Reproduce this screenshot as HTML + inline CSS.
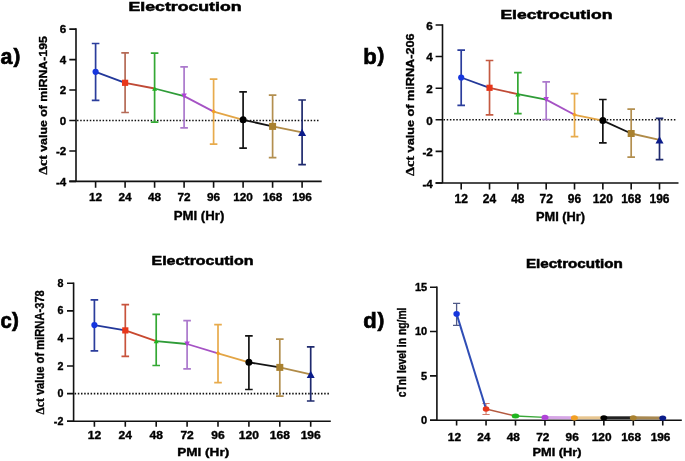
<!DOCTYPE html>
<html><head><meta charset="utf-8"><style>
html,body{margin:0;padding:0;background:#fff;}
svg{display:block;will-change:transform;}
text{font-family:"Liberation Sans", sans-serif;fill:#000;stroke:#000;stroke-width:0.35px;}
</style></head><body>
<svg width="685" height="461" viewBox="0 0 685 461">
<rect width="685" height="461" fill="#fff"/>
<text x="185" y="10.8" text-anchor="middle" font-size="12.5" font-weight="bold" textLength="113" lengthAdjust="spacingAndGlyphs" style="stroke-width:0.5px">Electrocution</text>
<text transform="translate(0.50,63.50) scale(0.95,1)" font-size="22.5" font-weight="bold" style="stroke-width:0.7px">a</text>
<text transform="translate(13.40,62.80) scale(1.05,1)" font-size="19.5" font-weight="bold" style="stroke-width:0.7px">)</text>
<text transform="translate(47.3,105.4) rotate(-90)" text-anchor="middle" font-size="11.5" font-weight="bold" textLength="138.6" lengthAdjust="spacingAndGlyphs"><tspan font-family="Liberation Serif" font-size="13">Δct</tspan> value of miRNA-195</text>
<path d="M76.00,28.32 V181.42 M69.30,181.42 H321.70" stroke="#111" stroke-width="1.6" fill="none"/>
<text x="66.20" y="33.42" text-anchor="end" font-size="11.6" font-weight="bold">6</text>
<text x="66.20" y="63.88" text-anchor="end" font-size="11.6" font-weight="bold">4</text>
<text x="66.20" y="94.34" text-anchor="end" font-size="11.6" font-weight="bold">2</text>
<text x="66.20" y="124.80" text-anchor="end" font-size="11.6" font-weight="bold">0</text>
<text x="66.20" y="155.26" text-anchor="end" font-size="11.6" font-weight="bold">-2</text>
<text x="66.20" y="185.72" text-anchor="end" font-size="11.6" font-weight="bold">-4</text>
<path d="M69.30,29.12 H76.00 M69.30,59.58 H76.00 M69.30,90.04 H76.00 M69.30,120.50 H76.00 M69.30,150.96 H76.00 M69.30,181.42 H76.00 M95.60,181.42 V187.72 M125.10,181.42 V187.72 M154.60,181.42 V187.72 M184.10,181.42 V187.72 M213.60,181.42 V187.72 M243.10,181.42 V187.72 M272.60,181.42 V187.72 M302.10,181.42 V187.72" stroke="#111" stroke-width="1.6" fill="none"/>
<text x="95.60" y="201.20" text-anchor="middle" font-size="11.8" font-weight="bold">12</text>
<text x="125.10" y="201.20" text-anchor="middle" font-size="11.8" font-weight="bold">24</text>
<text x="154.60" y="201.20" text-anchor="middle" font-size="11.8" font-weight="bold">48</text>
<text x="184.10" y="201.20" text-anchor="middle" font-size="11.8" font-weight="bold">72</text>
<text x="213.60" y="201.20" text-anchor="middle" font-size="11.8" font-weight="bold">96</text>
<text x="243.10" y="201.20" text-anchor="middle" font-size="11.8" font-weight="bold">120</text>
<text x="272.60" y="201.20" text-anchor="middle" font-size="11.8" font-weight="bold">168</text>
<text x="302.10" y="201.20" text-anchor="middle" font-size="11.8" font-weight="bold">196</text>
<text transform="translate(199.00,219.60) scale(1.1,1)" text-anchor="middle" font-size="12" font-weight="bold">PMI (Hr)</text>
<path d="M77.00,120.50 H320.00" stroke="#111" stroke-width="1.6" stroke-dasharray="1.5 1.7" fill="none"/>
<path d="M95.60,43.50 V100.40 M91.80,43.50 H99.40 M91.80,100.40 H99.40" stroke="#2b3d9c" stroke-width="1.7" fill="none"/>
<path d="M125.10,52.90 V112.50 M121.30,52.90 H128.90 M121.30,112.50 H128.90" stroke="#b56a56" stroke-width="1.7" fill="none"/>
<path d="M154.60,53.10 V122.20 M150.80,53.10 H158.40 M150.80,122.20 H158.40" stroke="#34a834" stroke-width="1.7" fill="none"/>
<path d="M184.10,66.90 V127.80 M180.30,66.90 H187.90 M180.30,127.80 H187.90" stroke="#ab78cc" stroke-width="1.7" fill="none"/>
<path d="M213.60,79.20 V144.20 M209.80,79.20 H217.40 M209.80,144.20 H217.40" stroke="#e8ab4c" stroke-width="1.7" fill="none"/>
<path d="M243.10,91.90 V148.10 M239.30,91.90 H246.90 M239.30,148.10 H246.90" stroke="#141414" stroke-width="1.7" fill="none"/>
<path d="M272.60,95.20 V157.60 M268.80,95.20 H276.40 M268.80,157.60 H276.40" stroke="#b38f4f" stroke-width="1.7" fill="none"/>
<path d="M302.10,100.00 V164.70 M298.30,100.00 H305.90 M298.30,164.70 H305.90" stroke="#1f2a6e" stroke-width="1.7" fill="none"/>
<path d="M95.60,71.80 L125.10,82.80" stroke="#23389a" stroke-width="1.8" fill="none"/>
<path d="M125.10,82.80 L154.60,88.50" stroke="#c04a36" stroke-width="1.8" fill="none"/>
<path d="M154.60,88.50 L184.10,96.10" stroke="#2f9c38" stroke-width="1.8" fill="none"/>
<path d="M184.10,96.10 L213.60,111.60" stroke="#a552c4" stroke-width="1.8" fill="none"/>
<path d="M213.60,111.60 L243.10,119.80" stroke="#e3a545" stroke-width="1.8" fill="none"/>
<path d="M243.10,119.80 L272.60,126.40" stroke="#141414" stroke-width="1.8" fill="none"/>
<path d="M272.60,126.40 L302.10,132.40" stroke="#b08b48" stroke-width="1.8" fill="none"/>
<circle cx="95.60" cy="71.80" r="3.10" fill="#1636de"/>
<rect x="122.00" y="79.70" width="6.20" height="6.20" fill="#e8361a"/>
<path d="M154.60,86.25 L157.10,90.75 L152.10,90.75Z" fill="#1fb51f"/>
<path d="M184.10,98.57 L186.85,93.62 L181.35,93.62Z" fill="#b043d8"/>
<path d="M213.60,109.35 L215.85,111.60 L213.60,113.85 L211.35,111.60Z" fill="#f2a023"/>
<circle cx="243.10" cy="119.80" r="3.50" fill="#000000"/>
<rect x="269.10" y="122.90" width="7.00" height="7.00" fill="#a9812f"/>
<path d="M302.10,128.80 L306.10,136.00 L298.10,136.00Z" fill="#0b1c8a"/>
<text x="556.4" y="19.4" text-anchor="middle" font-size="12.5" font-weight="bold" textLength="112" lengthAdjust="spacingAndGlyphs" style="stroke-width:0.5px">Electrocution</text>
<text x="363.30" y="63.70" font-size="22" font-weight="bold" style="stroke-width:0.7px">b</text>
<text transform="translate(377.60,62.00) scale(1.05,1)" font-size="19.5" font-weight="bold" style="stroke-width:0.7px">)</text>
<text transform="translate(414.2,104.75) rotate(-90)" text-anchor="middle" font-size="11.5" font-weight="bold" textLength="142.5" lengthAdjust="spacingAndGlyphs"><tspan font-family="Liberation Serif" font-size="13">Δct</tspan> value of miRNA-206</text>
<path d="M442.50,24.14 V183.04 M435.60,183.04 H678.50" stroke="#111" stroke-width="1.6" fill="none"/>
<text x="432.80" y="29.84" text-anchor="end" font-size="11.7" font-weight="bold">6</text>
<text x="432.80" y="61.46" text-anchor="end" font-size="11.7" font-weight="bold">4</text>
<text x="432.80" y="93.08" text-anchor="end" font-size="11.7" font-weight="bold">2</text>
<text x="432.80" y="124.70" text-anchor="end" font-size="11.7" font-weight="bold">0</text>
<text x="432.80" y="156.32" text-anchor="end" font-size="11.7" font-weight="bold">-2</text>
<text x="432.80" y="187.94" text-anchor="end" font-size="11.7" font-weight="bold">-4</text>
<path d="M435.60,24.94 H442.50 M435.60,56.56 H442.50 M435.60,88.18 H442.50 M435.60,119.80 H442.50 M435.60,151.42 H442.50 M435.60,183.04 H442.50 M461.20,183.04 V189.54 M489.53,183.04 V189.54 M517.86,183.04 V189.54 M546.19,183.04 V189.54 M574.52,183.04 V189.54 M602.85,183.04 V189.54 M631.18,183.04 V189.54 M659.51,183.04 V189.54" stroke="#111" stroke-width="1.6" fill="none"/>
<text x="461.20" y="202.80" text-anchor="middle" font-size="12" font-weight="bold">12</text>
<text x="489.53" y="202.80" text-anchor="middle" font-size="12" font-weight="bold">24</text>
<text x="517.86" y="202.80" text-anchor="middle" font-size="12" font-weight="bold">48</text>
<text x="546.19" y="202.80" text-anchor="middle" font-size="12" font-weight="bold">72</text>
<text x="574.52" y="202.80" text-anchor="middle" font-size="12" font-weight="bold">96</text>
<text x="602.85" y="202.80" text-anchor="middle" font-size="12" font-weight="bold">120</text>
<text x="631.18" y="202.80" text-anchor="middle" font-size="12" font-weight="bold">168</text>
<text x="659.51" y="202.80" text-anchor="middle" font-size="12" font-weight="bold">196</text>
<text transform="translate(560.50,220.80) scale(1.07,1)" text-anchor="middle" font-size="12" font-weight="bold">PMI (Hr)</text>
<path d="M443.50,119.80 H677.00" stroke="#111" stroke-width="1.6" stroke-dasharray="1.5 1.7" fill="none"/>
<path d="M461.20,50.20 V105.40 M457.40,50.20 H465.00 M457.40,105.40 H465.00" stroke="#2b3d9c" stroke-width="1.7" fill="none"/>
<path d="M489.53,60.50 V114.80 M485.73,60.50 H493.33 M485.73,114.80 H493.33" stroke="#c45a42" stroke-width="1.7" fill="none"/>
<path d="M517.86,72.70 V113.70 M514.06,72.70 H521.66 M514.06,113.70 H521.66" stroke="#34a834" stroke-width="1.7" fill="none"/>
<path d="M546.19,81.90 V119.50 M542.39,81.90 H549.99 M542.39,119.50 H549.99" stroke="#ab78cc" stroke-width="1.7" fill="none"/>
<path d="M574.52,93.70 V136.60 M570.72,93.70 H578.32 M570.72,136.60 H578.32" stroke="#e8ab4c" stroke-width="1.7" fill="none"/>
<path d="M602.85,99.50 V142.90 M599.05,99.50 H606.65 M599.05,142.90 H606.65" stroke="#141414" stroke-width="1.7" fill="none"/>
<path d="M631.18,109.20 V157.10 M627.38,109.20 H634.98 M627.38,157.10 H634.98" stroke="#b38f4f" stroke-width="1.7" fill="none"/>
<path d="M659.51,118.40 V159.60 M655.71,118.40 H663.31 M655.71,159.60 H663.31" stroke="#1f2a6e" stroke-width="1.7" fill="none"/>
<path d="M461.20,77.50 L489.53,87.80" stroke="#23389a" stroke-width="1.8" fill="none"/>
<path d="M489.53,87.80 L517.86,94.20" stroke="#c04a36" stroke-width="1.8" fill="none"/>
<path d="M517.86,94.20 L546.19,99.60" stroke="#2f9c38" stroke-width="1.8" fill="none"/>
<path d="M546.19,99.60 L574.52,114.80" stroke="#a552c4" stroke-width="1.8" fill="none"/>
<path d="M574.52,114.80 L602.85,120.60" stroke="#e3a545" stroke-width="1.8" fill="none"/>
<path d="M602.85,120.60 L631.18,133.50" stroke="#141414" stroke-width="1.8" fill="none"/>
<path d="M631.18,133.50 L659.51,139.80" stroke="#b08b48" stroke-width="1.8" fill="none"/>
<circle cx="461.20" cy="77.50" r="3.10" fill="#1636de"/>
<rect x="486.43" y="84.70" width="6.20" height="6.20" fill="#e8361a"/>
<path d="M517.86,91.95 L520.36,96.45 L515.36,96.45Z" fill="#1fb51f"/>
<path d="M546.19,102.07 L548.94,97.12 L543.44,97.12Z" fill="#b043d8"/>
<path d="M574.52,112.55 L576.77,114.80 L574.52,117.05 L572.27,114.80Z" fill="#f2a023"/>
<circle cx="602.85" cy="120.60" r="3.50" fill="#000000"/>
<rect x="627.68" y="130.00" width="7.00" height="7.00" fill="#a9812f"/>
<path d="M659.51,136.20 L663.51,143.40 L655.51,143.40Z" fill="#0b1c8a"/>
<text x="202.5" y="265.2" text-anchor="middle" font-size="12.5" font-weight="bold" textLength="102" lengthAdjust="spacingAndGlyphs" style="stroke-width:0.5px">Electrocution</text>
<text transform="translate(0.50,328.20) scale(0.9,1)" font-size="22.5" font-weight="bold" style="stroke-width:0.7px">c</text>
<text transform="translate(12.00,326.50) scale(1.05,1)" font-size="19.5" font-weight="bold" style="stroke-width:0.7px">)</text>
<text transform="translate(43.5,352.3) rotate(-90)" text-anchor="middle" font-size="12.6" font-weight="bold" textLength="124.2" lengthAdjust="spacingAndGlyphs"><tspan font-family="Liberation Serif" font-size="13">Δct</tspan> value of miRNA-378</text>
<path d="M73.60,282.48 V421.18 M67.00,421.18 H330.80" stroke="#111" stroke-width="1.6" fill="none"/>
<text transform="translate(63.40,286.88) scale(1.04,1)" text-anchor="end" font-size="10.3" font-weight="bold">8</text>
<text transform="translate(63.40,314.46) scale(1.04,1)" text-anchor="end" font-size="10.3" font-weight="bold">6</text>
<text transform="translate(63.40,342.04) scale(1.04,1)" text-anchor="end" font-size="10.3" font-weight="bold">4</text>
<text transform="translate(63.40,369.62) scale(1.04,1)" text-anchor="end" font-size="10.3" font-weight="bold">2</text>
<text transform="translate(63.40,397.20) scale(1.04,1)" text-anchor="end" font-size="10.3" font-weight="bold">0</text>
<text transform="translate(63.40,424.78) scale(1.04,1)" text-anchor="end" font-size="10.3" font-weight="bold">-2</text>
<path d="M67.00,283.28 H73.60 M67.00,310.86 H73.60 M67.00,338.44 H73.60 M67.00,366.02 H73.60 M67.00,393.60 H73.60 M67.00,421.18 H73.60 M94.40,421.18 V426.78 M125.30,421.18 V426.78 M156.20,421.18 V426.78 M187.10,421.18 V426.78 M218.00,421.18 V426.78 M248.90,421.18 V426.78 M279.80,421.18 V426.78 M310.70,421.18 V426.78" stroke="#111" stroke-width="1.6" fill="none"/>
<text transform="translate(94.40,438.80) scale(1.18,1)" text-anchor="middle" font-size="10.2" font-weight="bold">12</text>
<text transform="translate(125.30,438.80) scale(1.18,1)" text-anchor="middle" font-size="10.2" font-weight="bold">24</text>
<text transform="translate(156.20,438.80) scale(1.18,1)" text-anchor="middle" font-size="10.2" font-weight="bold">48</text>
<text transform="translate(187.10,438.80) scale(1.18,1)" text-anchor="middle" font-size="10.2" font-weight="bold">72</text>
<text transform="translate(218.00,438.80) scale(1.18,1)" text-anchor="middle" font-size="10.2" font-weight="bold">96</text>
<text transform="translate(248.90,438.80) scale(1.18,1)" text-anchor="middle" font-size="10.2" font-weight="bold">120</text>
<text transform="translate(279.80,438.80) scale(1.18,1)" text-anchor="middle" font-size="10.2" font-weight="bold">168</text>
<text transform="translate(310.70,438.80) scale(1.18,1)" text-anchor="middle" font-size="10.2" font-weight="bold">196</text>
<text transform="translate(203.20,455.90) scale(1.26,1)" text-anchor="middle" font-size="10.8" font-weight="bold">PMI (Hr)</text>
<path d="M74.60,393.60 H329.30" stroke="#111" stroke-width="1.6" stroke-dasharray="1.5 1.7" fill="none"/>
<path d="M94.40,299.80 V350.90 M90.60,299.80 H98.20 M90.60,350.90 H98.20" stroke="#2b3d9c" stroke-width="1.7" fill="none"/>
<path d="M125.30,304.60 V356.40 M121.50,304.60 H129.10 M121.50,356.40 H129.10" stroke="#c8533c" stroke-width="1.7" fill="none"/>
<path d="M156.20,314.40 V365.50 M152.40,314.40 H160.00 M152.40,365.50 H160.00" stroke="#34a834" stroke-width="1.7" fill="none"/>
<path d="M187.10,320.60 V368.80 M183.30,320.60 H190.90 M183.30,368.80 H190.90" stroke="#ab78cc" stroke-width="1.7" fill="none"/>
<path d="M218.00,324.60 V382.60 M214.20,324.60 H221.80 M214.20,382.60 H221.80" stroke="#e8ab4c" stroke-width="1.7" fill="none"/>
<path d="M248.90,335.80 V389.50 M245.10,335.80 H252.70 M245.10,389.50 H252.70" stroke="#141414" stroke-width="1.7" fill="none"/>
<path d="M279.80,339.10 V396.10 M276.00,339.10 H283.60 M276.00,396.10 H283.60" stroke="#b38f4f" stroke-width="1.7" fill="none"/>
<path d="M310.70,346.90 V401.00 M306.90,346.90 H314.50 M306.90,401.00 H314.50" stroke="#1f2a6e" stroke-width="1.7" fill="none"/>
<path d="M94.40,325.10 L125.30,330.40" stroke="#23389a" stroke-width="1.8" fill="none"/>
<path d="M125.30,330.40 L156.20,341.10" stroke="#c8482f" stroke-width="1.8" fill="none"/>
<path d="M156.20,341.10 L187.10,344.00" stroke="#2f9c38" stroke-width="1.8" fill="none"/>
<path d="M187.10,344.00 L218.00,353.30" stroke="#a552c4" stroke-width="1.8" fill="none"/>
<path d="M218.00,353.30 L248.90,362.30" stroke="#e3a545" stroke-width="1.8" fill="none"/>
<path d="M248.90,362.30 L279.80,367.40" stroke="#141414" stroke-width="1.8" fill="none"/>
<path d="M279.80,367.40 L310.70,374.30" stroke="#b08b48" stroke-width="1.8" fill="none"/>
<circle cx="94.40" cy="325.10" r="3.10" fill="#1636de"/>
<rect x="122.20" y="327.30" width="6.20" height="6.20" fill="#e8361a"/>
<path d="M156.20,338.85 L158.70,343.35 L153.70,343.35Z" fill="#1fb51f"/>
<path d="M187.10,346.48 L189.85,341.52 L184.35,341.52Z" fill="#b043d8"/>
<path d="M218.00,351.05 L220.25,353.30 L218.00,355.55 L215.75,353.30Z" fill="#f2a023"/>
<circle cx="248.90" cy="362.30" r="3.50" fill="#000000"/>
<rect x="276.30" y="363.90" width="7.00" height="7.00" fill="#a9812f"/>
<path d="M310.70,370.70 L314.70,377.90 L306.70,377.90Z" fill="#0b1c8a"/>
<text x="574.4" y="268" text-anchor="middle" font-size="12" font-weight="bold" textLength="97" lengthAdjust="spacingAndGlyphs" style="stroke-width:0.5px">Electrocution</text>
<text x="363.30" y="328.00" font-size="22" font-weight="bold" style="stroke-width:0.7px">d</text>
<text transform="translate(377.60,326.50) scale(1.05,1)" font-size="19.5" font-weight="bold" style="stroke-width:0.7px">)</text>
<text transform="translate(405.5,352.4) rotate(-90)" text-anchor="middle" font-size="12" font-weight="bold" textLength="89.8" lengthAdjust="spacingAndGlyphs">cTnI level in ng/ml</text>
<path d="M436.90,286.39 V420.20 M430.00,420.20 H681.80" stroke="#111" stroke-width="1.6" fill="none"/>
<text transform="translate(427.20,290.99) scale(1.04,1)" text-anchor="end" font-size="10.6" font-weight="bold">15</text>
<text transform="translate(427.20,335.33) scale(1.04,1)" text-anchor="end" font-size="10.6" font-weight="bold">10</text>
<text transform="translate(427.20,379.67) scale(1.04,1)" text-anchor="end" font-size="10.6" font-weight="bold">5</text>
<text transform="translate(427.20,424.00) scale(1.04,1)" text-anchor="end" font-size="10.6" font-weight="bold">0</text>
<path d="M430.00,287.19 H436.90 M430.00,331.53 H436.90 M430.00,375.87 H436.90 M430.00,420.20 H436.90 M456.60,420.20 V425.40 M486.05,420.20 V425.40 M515.50,420.20 V425.40 M544.95,420.20 V425.40 M574.40,420.20 V425.40 M603.85,420.20 V425.40 M633.30,420.20 V425.40 M662.75,420.20 V425.40" stroke="#111" stroke-width="1.6" fill="none"/>
<text transform="translate(454.40,440.60) scale(1.12,1)" text-anchor="middle" font-size="10.6" font-weight="bold">12</text>
<text transform="translate(483.85,440.60) scale(1.12,1)" text-anchor="middle" font-size="10.6" font-weight="bold">24</text>
<text transform="translate(513.30,440.60) scale(1.12,1)" text-anchor="middle" font-size="10.6" font-weight="bold">48</text>
<text transform="translate(542.75,440.60) scale(1.12,1)" text-anchor="middle" font-size="10.6" font-weight="bold">72</text>
<text transform="translate(572.20,440.60) scale(1.12,1)" text-anchor="middle" font-size="10.6" font-weight="bold">96</text>
<text transform="translate(601.65,440.60) scale(1.12,1)" text-anchor="middle" font-size="10.6" font-weight="bold">120</text>
<text transform="translate(631.10,440.60) scale(1.12,1)" text-anchor="middle" font-size="10.6" font-weight="bold">168</text>
<text transform="translate(660.55,440.60) scale(1.12,1)" text-anchor="middle" font-size="10.6" font-weight="bold">196</text>
<text transform="translate(557.00,456.40) scale(1.24,1)" text-anchor="middle" font-size="10.3" font-weight="bold">PMI (Hr)</text>
<path d="M456.60,303.30 V325.30 M453.00,303.30 H460.20 M453.00,325.30 H460.20" stroke="#4f5a88" stroke-width="1.3" fill="none"/>
<path d="M486.05,403.50 V414.50 M482.45,403.50 H489.65 M482.45,414.50 H489.65" stroke="#d07a68" stroke-width="1.1" fill="none"/>
<path d="M456.60,313.90 L486.05,409.00" stroke="#2f4db5" stroke-width="2" fill="none"/>
<path d="M486.05,409.00 L515.50,416.00" stroke="#b45a40" stroke-width="1.5" fill="none"/>
<path d="M515.50,416.00 L544.95,417.40" stroke="#3aa83a" stroke-width="1.4" fill="none"/>
<path d="M544.95,417.40 L574.40,417.80" stroke="#d6a6e6" stroke-width="3" fill="none"/>
<path d="M574.40,417.80 L603.85,417.80" stroke="#e8c690" stroke-width="3" fill="none"/>
<path d="M603.85,417.80 L633.30,417.80" stroke="#222222" stroke-width="3" fill="none"/>
<path d="M633.30,417.80 L662.75,418.00" stroke="#a88850" stroke-width="3" fill="none"/>
<ellipse cx="456.60" cy="313.90" rx="3.20" ry="2.80" fill="#1636de"/>
<ellipse cx="486.05" cy="409.00" rx="3.30" ry="2.80" fill="#e8361a"/>
<ellipse cx="515.50" cy="416.00" rx="3.80" ry="2.50" fill="#1fb51f"/>
<ellipse cx="544.95" cy="417.40" rx="3.50" ry="2.60" fill="#b043d8"/>
<ellipse cx="574.40" cy="417.80" rx="3.50" ry="2.60" fill="#f2a023"/>
<ellipse cx="603.85" cy="417.80" rx="3.50" ry="2.60" fill="#000000"/>
<ellipse cx="633.30" cy="417.80" rx="3.50" ry="2.60" fill="#a9812f"/>
<ellipse cx="662.75" cy="418.00" rx="3.50" ry="2.60" fill="#0b1c8a"/>
</svg>
</body></html>
